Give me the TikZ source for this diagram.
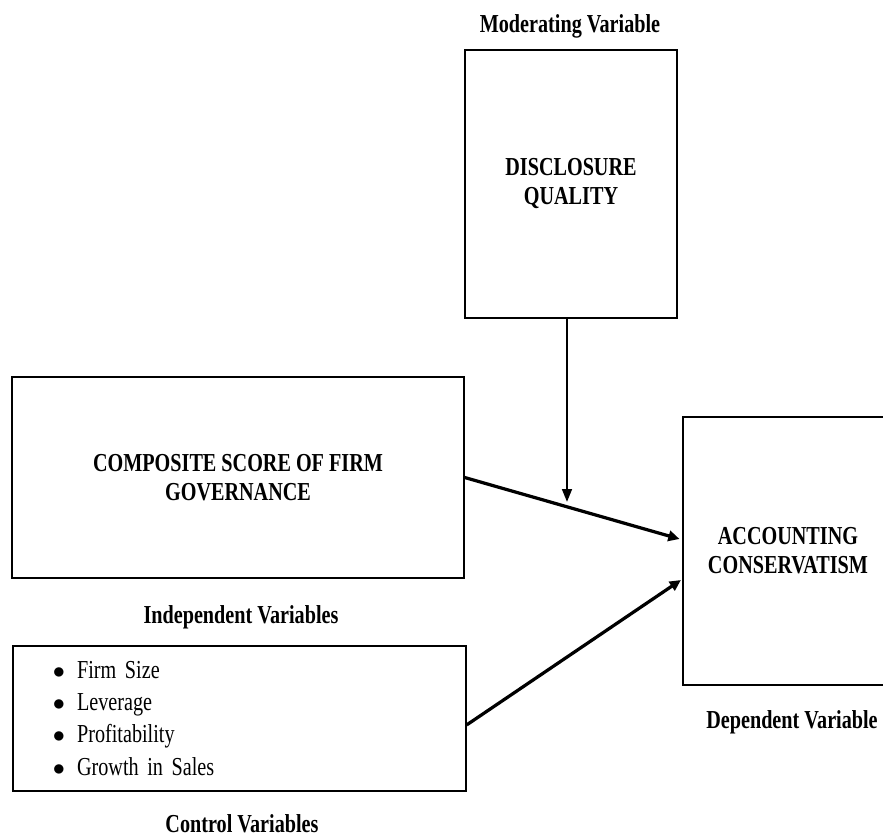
\documentclass[tikz,border=0pt]{standalone}
\usepackage{fontspec}
\setmainfont[FakeStretch=0.78]{Liberation Serif}
\usetikzlibrary{arrows.meta}

\begin{document}
\begin{tikzpicture}[x=0.025cm, y=-0.025cm,
        box/.style={draw=black, line width=0.9pt, align=center, font=\fontsize{18.4}{20.6}\selectfont\bfseries},
        caption/.style={anchor=base, font=\fontsize{18.4}{20.6}\selectfont\bfseries},
        link/.style={line width=2.3pt, -{Triangle[length=0.28cm, width=0.26cm]}}]
        \useasboundingbox (0,0) rectangle (883,837);
        \clip (0,0) rectangle (883,837);
        \node [box, minimum width=5.3cm, minimum height=6.7cm] (dq) at (571,184) {DISCLOSURE\\QUALITY};
        \node [box, minimum width=11.3cm, minimum height=5.025cm] (gov) at (238,477.5) {COMPOSITE SCORE OF FIRM\\GOVERNANCE};
        \node [box, minimum width=5.25cm, minimum height=6.7cm] (acc) at (788,551) {ACCOUNTING\\CONSERVATISM};
        \node [draw=black, line width=0.9pt, minimum width=11.325cm, minimum height=3.625cm, inner xsep=1cm,
               text width=9.325cm, align=left, font=\fontsize{18.4}{22.8}\selectfont] (ctrl) at (239.5,718.5)
              {$\bullet$\hspace{0.3cm}Firm Size\\$\bullet$\hspace{0.3cm}Leverage\\$\bullet$\hspace{0.3cm}Profitability\\$\bullet$\hspace{0.3cm}Growth in Sales};
        \node [caption] (modlab) at (570,32) {Moderating Variable};
        \node [caption] (indlab) at (241,623) {Independent Variables};
        \node [caption] (ctrllab) at (242,832) {Control Variables};
        \node [caption] (deplab) at (792,728) {Dependent Variable};
        \coordinate (mod) at (567,502);
        \draw [link, line width=1.7pt, -{Triangle[length=0.32cm, width=0.24cm]}] (dq.south -| mod) -- (mod);
        \draw [link] (gov.east) -- ([xshift=-2pt, yshift=0.3cm]acc.west);
        \draw [link] ([yshift=-0.16cm]ctrl.east) -- ([xshift=-1pt, yshift=-0.725cm]acc.west);
\end{tikzpicture}
\end{document}
